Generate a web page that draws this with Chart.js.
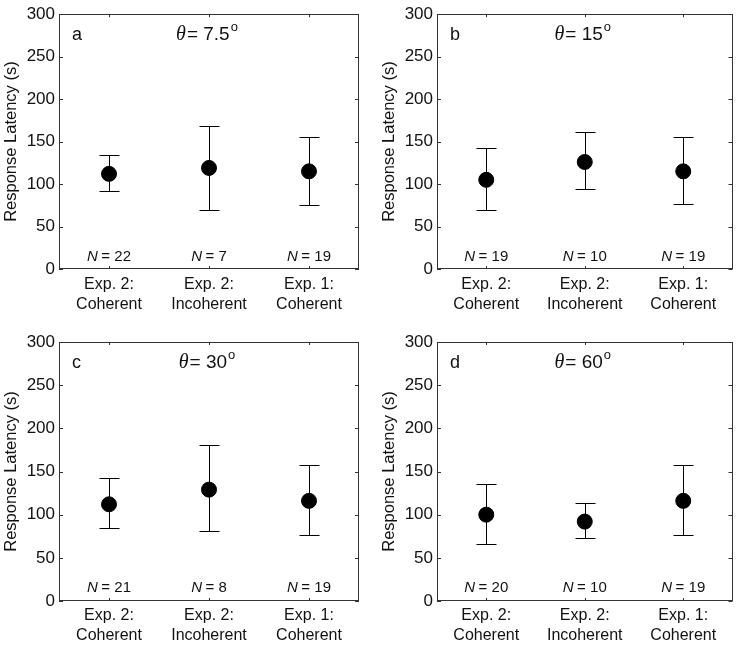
<!DOCTYPE html>
<html>
<head>
<meta charset="utf-8">
<script src="https://cdn.jsdelivr.net/npm/chart.js@4.4.1/dist/chart.umd.min.js"></script>
<style>
  html, body { margin: 0; padding: 0; background: #fff; }
  #wrap { position: relative; width: 741px; height: 647px; background: #fff; }
  #wrap canvas { position: absolute; }
</style>
</head>
<body>
<div id="wrap">
  <canvas id="pa" width="370" height="323" style="left:0;top:0"></canvas>
  <canvas id="pb" width="371" height="323" style="left:370px;top:0"></canvas>
  <canvas id="pc" width="370" height="327" style="left:0;top:320px"></canvas>
  <canvas id="pd" width="371" height="327" style="left:370px;top:320px"></canvas>
</div>
<script>
// categories and axis
const categories = [["Exp. 2:", "Coherent"], ["Exp. 2:", "Incoherent"], ["Exp. 1:", "Coherent"]];
const yMin = 0, yMax = 300, yStep = 50;
const yTitle = "Response Latency (s)";

// panel a: theta = 7.5
const meanA = [112, 119, 115];
const lowA = [92, 70, 75];
const highA = [134, 168, 156];
const nA = [22, 7, 19];

// panel b: theta = 15
const meanB = [105, 126, 115];
const lowB = [70, 94, 76];
const highB = [142, 161, 156];
const nB = [19, 10, 19];

// panel c: theta = 30
const meanC = [112, 129, 116];
const lowC = [84, 81, 76];
const highC = [142, 181, 157];
const nC = [21, 8, 19];

// panel d: theta = 60
const meanD = [100, 92, 116];
const lowD = [66, 73, 76];
const highD = [135, 114, 157];
const nD = [20, 10, 19];

const panelLetters = ["a", "b", "c", "d"];
const thetaLabels = ["7.5", "15", "30", "60"];

const SANS = "'Liberation Sans', Arial, sans-serif";
const SERIF = "'Liberation Serif', 'Times New Roman', serif";
const INK = "#111";

// draws the box, the inward ticks, error bars and in-plot texts
const framePlugin = {
    id: "frame",
    beforeDatasetsDraw: function (chart, args, o) {
        const ctx = chart.ctx;
        const a = chart.chartArea;
        const x = chart.scales.x, y = chart.scales.y;
        ctx.save();
        ctx.strokeStyle = "#333";
        ctx.lineWidth = 1;
        ctx.strokeRect(Math.round(a.left) + 0.5, Math.round(a.top) + 0.5,
            Math.round(a.width) - 1, Math.round(a.height) - 1);

        ctx.beginPath();
        y.ticks.forEach(function (t) {
            const py = Math.round(y.getPixelForValue(t.value)) + 0.5;
            ctx.moveTo(a.left, py); ctx.lineTo(a.left + 4, py);
            ctx.moveTo(a.right, py); ctx.lineTo(a.right - 4, py);
        });
        x.ticks.forEach(function (t, i) {
            const px = Math.round(x.getPixelForValue(i)) + 0.5;
            ctx.moveTo(px, a.bottom); ctx.lineTo(px, a.bottom - 3);
            ctx.moveTo(px, a.top); ctx.lineTo(px, a.top + 3);
        });
        ctx.stroke();

        // error bars
        ctx.strokeStyle = "#000";
        ctx.beginPath();
        o.low.forEach(function (lo, i) {
            const px = Math.round(x.getPixelForValue(i)) + 0.5;
            const yl = Math.round(y.getPixelForValue(lo)) + 0.5;
            const yh = Math.round(y.getPixelForValue(o.high[i])) + 0.5;
            ctx.moveTo(px, yl); ctx.lineTo(px, yh);
            ctx.moveTo(px - 10, yl); ctx.lineTo(px + 10, yl);
            ctx.moveTo(px - 10, yh); ctx.lineTo(px + 10, yh);
        });
        ctx.stroke();

        // N labels
        ctx.fillStyle = INK;
        ctx.textBaseline = "alphabetic";
        const ny = y.getPixelForValue(10);
        o.n.forEach(function (n, i) {
            const px = x.getPixelForValue(i);
            ctx.font = "italic 15px " + SANS;
            const w1 = ctx.measureText("N").width;
            ctx.font = "15px " + SANS;
            const rest = "= " + n;
            const w2 = ctx.measureText(rest).width;
            const gap = 3.5;
            const x0 = px - (w1 + gap + w2) / 2;
            ctx.textAlign = "left";
            ctx.font = "italic 15px " + SANS;
            ctx.fillText("N", x0, ny);
            ctx.font = "15px " + SANS;
            ctx.fillText(rest, x0 + w1 + gap, ny);
        });

        // panel letter
        const ty = y.getPixelForValue(270);
        ctx.font = "18px " + SANS;
        ctx.textAlign = "left";
        ctx.fillText(o.letter, a.left + 13, ty);

        // theta title
        ctx.font = "italic 20px " + SERIF;
        const wt = ctx.measureText("\u03b8").width;
        ctx.font = "19px " + SANS;
        const body = "= " + o.theta;
        const wb = ctx.measureText(body).width;
        ctx.font = "13px " + SANS;
        const wo = ctx.measureText("o").width;
        const total = wt + 1 + wb + 1 + wo;
        let cx = (a.left + a.right) / 2 - 2 - total / 2;
        ctx.font = "italic 20px " + SERIF;
        ctx.fillText("\u03b8", cx, ty);
        cx += wt + 1;
        ctx.font = "19px " + SANS;
        ctx.fillText(body, cx, ty);
        cx += wb + 1;
        ctx.font = "13px " + SANS;
        ctx.fillText("o", cx, ty - 9);
        ctx.restore();
    },
};

function makePanel(id, mean, low, high, n, idx, lay) {
    const canvas = document.getElementById(id);
    return new Chart(canvas.getContext("2d"), {
        type: "line",
        data: {
            labels: categories,
            datasets: [
                {
                    data: mean,
                    showLine: false,
                    pointRadius: 7.5,
                    pointBorderWidth: 1,
                    pointBackgroundColor: "#000",
                    pointBorderColor: "#000",
                },
            ],
        },
        options: {
            responsive: false,
            animation: false,
            devicePixelRatio: 1,
            events: [],
            layout: { padding: { left: lay.padLeft, top: lay.padTop, right: lay.padRight, bottom: 0 } },
            scales: {
                x: {
                    type: "category",
                    offset: true,
                    grid: { display: false, drawTicks: false },
                    border: { display: false },
                    ticks: {
                        color: INK,
                        padding: lay.xPad,
                        maxRotation: 0,
                        autoSkip: false,
                        font: { family: SANS, size: 16, lineHeight: 1.25 },
                    },
                    afterFit: function (s) { s.height = lay.xHeight; },
                },
                y: {
                    min: yMin,
                    max: yMax,
                    grid: { display: false, drawTicks: false },
                    border: { display: false },
                    ticks: {
                        stepSize: yStep,
                        color: INK,
                        padding: 4,
                        font: { family: SANS, size: 17 },
                    },
                    title: {
                        display: true,
                        text: yTitle,
                        color: INK,
                        padding: 0,
                        font: { family: SANS, size: 16.5 },
                    },
                    afterFit: function (s) { s.width = 57; },
                },
            },
            plugins: {
                legend: { display: false },
                tooltip: { enabled: false },
                frame: {
                    low: low,
                    high: high,
                    n: n,
                    letter: panelLetters[idx],
                    theta: thetaLabels[idx],
                },
            },
        },
        plugins: [framePlugin],
    });
}

makePanel("pa", meanA, lowA, highA, nA, 0, { padLeft: 2, padTop: 10, padRight: 11, xHeight: 54, xPad: 6 });
makePanel("pb", meanB, lowB, highB, nB, 1, { padLeft: 10, padTop: 10, padRight: 4, xHeight: 54, xPad: 6 });
makePanel("pc", meanC, lowC, highC, nC, 2, { padLeft: 2, padTop: 22, padRight: 11, xHeight: 46, xPad: 5 });
makePanel("pd", meanD, lowD, highD, nD, 3, { padLeft: 10, padTop: 22, padRight: 4, xHeight: 46, xPad: 5 });
</script>
</body>
</html>
